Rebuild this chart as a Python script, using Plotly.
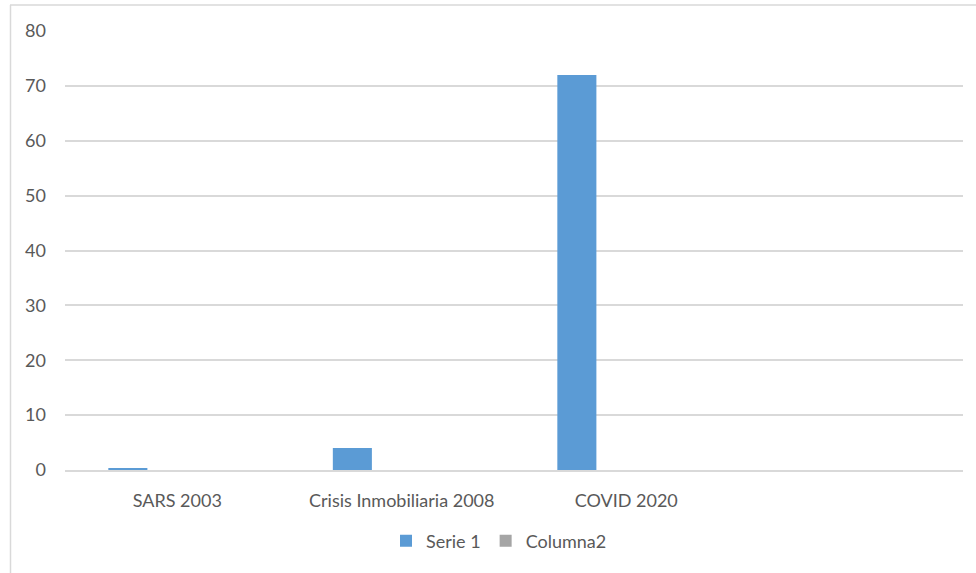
import plotly.graph_objects as go

categories = ["SARS 2003", "Crisis Inmobiliaria 2008", "COVID 2020"]
serie1 = [0.35, 4, 72]
columna2 = [0, 0, 0]
y_ticks = [0, 10, 20, 30, 40, 50, 60, 70, 80]

W, H = 976, 573
L, R, T, B = 65, 13, 31, 103
pw, ph = W - L - R, H - T - B

def px_x(px):
    return (px - L) / pw

def px_y(py):
    return (H - B - py) / ph

font = "Lato, Calibri, Carlito, sans-serif"
txt = "#595959"
fs = 18

fig = go.Figure()
fig.add_trace(go.Bar(x=categories, y=serie1, name="Serie 1",
                     marker=dict(color="#5B9BD5", line=dict(width=0)),
                     width=0.174, offset=-0.307))
fig.add_trace(go.Bar(x=categories, y=columna2, name="Columna2",
                     marker=dict(color="#A5A5A5", line=dict(width=0)),
                     width=0.174, offset=-0.133))

fig.update_layout(
    width=W, height=H,
    margin=dict(l=L, r=R, t=T, b=B, pad=0),
    paper_bgcolor="white", plot_bgcolor="white",
    font=dict(family=font, size=fs, color=txt),
    barmode="overlay",
    showlegend=True,
    legend=dict(orientation="h", x=px_x(499), xanchor="center",
                y=px_y(541), yanchor="middle",
                font=dict(size=fs, color=txt), itemwidth=30,
                tracegroupgap=0),
    xaxis=dict(type="category", range=[-0.5, 3.5], showgrid=False,
               showline=True, linecolor="#D9D9D9", linewidth=1.5,
               ticks="", ticklabelstandoff=14, zeroline=False,
               tickfont=dict(size=fs, color=txt, family=font)),
    yaxis=dict(range=[0, 80], tickvals=y_ticks, showgrid=True,
               gridcolor="#D9D9D9", gridwidth=1.5, showline=False,
               zeroline=False, ticks="", ticklabelstandoff=18,
               tickfont=dict(size=fs, color=txt, family=font)),
    shapes=[
        dict(type="line", xref="paper", yref="paper",
             x0=px_x(10), x1=px_x(976), y0=px_y(5), y1=px_y(5),
             line=dict(color="#D9D9D9", width=1.5)),
        dict(type="line", xref="paper", yref="paper",
             x0=px_x(10.5), x1=px_x(10.5), y0=px_y(5), y1=px_y(573),
             line=dict(color="#D9D9D9", width=1.5)),
    ],
)

fig.write_html("out.html",
               config={"displayModeBar": False},
               post_script="document.body.style.margin='0';document.body.style.overflow='hidden';")
